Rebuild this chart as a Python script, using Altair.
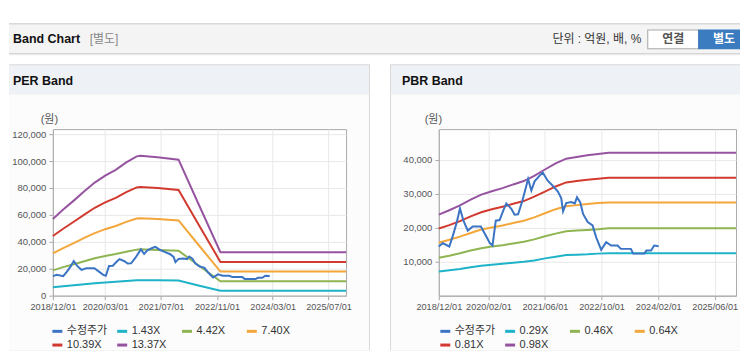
import altair as alt
import pandas as pd

FONT = "Liberation Sans, Noto Sans CJK KR, sans-serif"

# ---------------- data ----------------
per_series = ["수정주가", "1.43X", "4.42X", "7.40X", "10.39X", "13.37X"]
pbr_series = ["수정주가", "0.29X", "0.46X", "0.64X", "0.81X", "0.98X"]
line_colors = ["#3b74c4", "#1eb3c8", "#8fb552", "#f3a63a", "#d23a2f", "#9654a0"]

price_dates = ["2018-12-01", "2019-01-04", "2019-03-01", "2019-04-01", "2019-05-04", "2019-06-01",
               "2019-07-01", "2019-08-07", "2019-09-19", "2019-11-28", "2020-01-10", "2020-02-13",
               "2020-03-07", "2020-04-04", "2020-05-07", "2020-06-13", "2020-07-04", "2020-08-16",
               "2020-09-13", "2020-10-13", "2020-11-19", "2021-01-07", "2021-02-04", "2021-03-04",
               "2021-04-16", "2021-05-13", "2021-06-25", "2021-08-07", "2021-09-19", "2021-10-19",
               "2021-11-04", "2021-12-01", "2022-01-13", "2022-02-13", "2022-03-04", "2022-04-01",
               "2022-04-25", "2022-06-04", "2022-07-16", "2022-08-16", "2022-09-28", "2022-11-10",
               "2022-12-22", "2023-02-16", "2023-03-16", "2023-06-10", "2023-07-01", "2023-10-04",
               "2023-10-22", "2023-12-01", "2023-12-28", "2024-02-04"]
price_values = [14500, 15500, 14500, 17700, 21600, 25700, 22100, 19200, 20400, 20400, 17700, 15500,
                14800, 22100, 22300, 25600, 27200, 25600, 23900, 24000, 28000, 34400, 31000, 33700,
                35400, 36300, 33900, 32400, 30800, 28800, 24900, 27300, 27600, 27200, 29000, 27500,
                24100, 21700, 20700, 17200, 13500, 15800, 14800, 14800, 13800, 13800, 12400, 12400,
                13300, 13300, 14800, 14600]

per_band_dates = ["2018-12-01", "2019-03-01", "2019-06-01", "2019-09-01", "2019-12-01", "2020-03-01",
                  "2020-06-01", "2020-09-01", "2020-12-01", "2021-01-01", "2021-06-01", "2021-12-01",
                  "2022-06-01", "2022-12-01", "2025-12-01"]
per_143 = [6300, 7000, 7800, 8500, 9200, 9800, 10300, 10900, 11400, 11500, 11400, 11200, 7400, 3700, 3700]
per_442 = [18800, 21200, 23300, 25600, 27800, 29500, 30900, 32700, 34200, 34400, 34000, 33400, 22000, 10700, 10700]
per_740 = [31500, 35400, 39100, 42900, 46500, 49400, 51800, 54800, 57300, 57600, 56900, 55900, 36900, 17900, 17900]
per_1039 = [44300, 49700, 54900, 60200, 65300, 69300, 72700, 76900, 80400, 80800, 79900, 78500, 51800, 25100, 25100]
per_1337 = [57000, 64000, 70600, 77500, 84000, 89200, 93500, 99000, 103500, 104000, 102800, 101000, 66600, 32300, 32300]

pbr_band_dates = ["2018-12-01", "2019-03-01", "2019-06-01", "2019-09-01", "2019-12-01", "2020-03-01",
                  "2020-06-01", "2020-09-01", "2020-12-01", "2021-03-01", "2021-06-01", "2021-09-01",
                  "2021-12-01", "2022-03-01", "2022-06-01", "2022-09-01", "2022-12-01", "2025-12-01"]
pbr_029 = [7100, 7500, 7900, 8400, 8800, 9100, 9400, 9700, 10000, 10400, 11000, 11500, 12000, 12100, 12200, 12400, 12500, 12500]
pbr_046 = [11200, 11800, 12500, 13300, 14000, 14500, 14900, 15400, 15900, 16600, 17500, 18300, 19000, 19200, 19400, 19600, 19900, 19900]
pbr_064 = [15600, 16500, 17400, 18500, 19500, 20100, 20700, 21400, 22100, 23100, 24300, 25500, 26400, 26700, 27000, 27300, 27500, 27500]
pbr_081 = [19800, 20800, 22000, 23400, 24600, 25500, 26200, 27100, 27900, 29200, 30700, 32200, 33400, 33800, 34200, 34500, 34800, 34800]
pbr_098 = [23900, 25200, 26600, 28300, 29800, 30800, 31700, 32800, 33800, 35300, 37200, 39000, 40400, 40900, 41400, 41800, 42150, 42150]

per_ticks = ["2018-12-01", "2020-03-01", "2021-07-01", "2022-11-01", "2024-03-01", "2025-07-01"]
pbr_ticks = ["2018-12-01", "2020-02-01", "2021-06-01", "2022-10-01", "2024-02-01", "2025-06-01"]
per_yticks = [0, 20000, 40000, 60000, 80000, 100000, 120000]
pbr_yticks = [10000, 20000, 30000, 40000]


def dt(s):
    y, m, d = map(int, s.split("-"))
    return alt.DateTime(year=y, month=m, date=d, utc=True)


def panel_df(names, band_dates, bands):
    rows = []
    for name, vals in zip(names[1:], bands):
        for d, v in zip(band_dates, vals):
            rows.append({"date": d, "value": v, "series": name})
    for d, v in zip(price_dates, price_values):
        rows.append({"date": d, "value": v, "series": names[0]})
    return pd.DataFrame(rows)


ax_common = dict(labelFont=FONT, labelColor="#555555", domainColor="#aaaaaa",
                 tickColor="#aaaaaa", tickSize=4, gridColor="#e8e8e8", labelPadding=3)


def panel(df, names, width, yvals, ymax, xticks, legend_x, title_x):
    x = alt.X("date:T",
              scale=alt.Scale(type="utc", domain=[dt("2018-12-01"), dt("2025-12-01")]),
              axis=alt.Axis(values=[dt(t) for t in xticks],
                            labelExpr="utcFormat(datum.value, '%Y/%m/%d')",
                            title=None, labelFlush=False, labelOverlap=False,
                            labelFontSize=9.2, **ax_common))
    y = alt.Y("value:Q",
              scale=alt.Scale(domain=[0, ymax], nice=False),
              axis=alt.Axis(values=yvals, format=",.0f", title="(원)", titleAngle=0,
                            titleX=title_x, titleY=-10, titleAlign="center", titleBaseline="middle",
                            titleFont=FONT, titleFontSize=11, titleFontWeight="normal",
                            titleColor="#555555", labelFontSize=9.5, **ax_common))
    color = alt.Color("series:N",
                      scale=alt.Scale(domain=names, range=line_colors),
                      legend=alt.Legend(orient="none", legendX=legend_x, legendY=196,
                                        direction="horizontal", columns=4, title=None,
                                        symbolType="stroke", symbolStrokeWidth=3, symbolSize=100,
                                        labelFont=FONT, labelFontSize=11, labelColor="#333333",
                                        gridAlign="all", columnPadding=3, rowPadding=1,
                                        labelOffset=3, padding=0))
    return alt.Chart(df).mark_line(strokeWidth=2).encode(x=x, y=y, color=color).properties(
        width=width, height=167,
        view=alt.ViewBackground(fill="white", stroke="#aaaaaa", strokeWidth=1))


per_df = panel_df(per_series, per_band_dates, [per_143, per_442, per_740, per_1039, per_1337])
pbr_df = panel_df(pbr_series, pbr_band_dates, [pbr_029, pbr_046, pbr_064, pbr_081, pbr_098])

left = panel(per_df, per_series, 294, per_yticks, 123700, per_ticks, -2, -4)
right = panel(pbr_df, pbr_series, 298, pbr_yticks, 49100, pbr_ticks, 0, -6)

# ---------------- page decoration (header bar, panel boxes) ----------------
OX, OY = 52, 8
rect_x1 = [8, 8, 8, 8, 8, 8, 8, 8, 390, 391, 391, 648, 649, 699]
rect_x2 = [741, 741, 741, 741, 741, 370, 369, 369, 741, 741, 741, 700, 699, 741]
rect_y1 = [8, 22, 23, 52, 53, 63, 64, 93, 63, 64, 93, 28, 29, 28]
rect_y2 = [350, 23, 52, 53, 54, 350, 93, 350, 350, 93, 350, 48, 47, 48]
rect_fill = ["#ffffff", "#b4b4b4", "#f4f4f4", "#c8c8c8", "#e8e8e8",
             "#d9d9d9", "#eef1f6", "#fcfcfd",
             "#d9d9d9", "#eef1f6", "#fcfcfd",
             "#a8a8a8", "#ffffff", "#3b7bbf"]

rects = pd.DataFrame({
    "x": [v - OX for v in rect_x1], "x2": [v - OX for v in rect_x2],
    "y": [v - OY for v in rect_y1], "y2": [v - OY for v in rect_y2],
    "fill": rect_fill,
})
deco = alt.Chart(rects).mark_rect().encode(
    x=alt.X("x:Q", scale=None), x2="x2:Q",
    y=alt.Y("y:Q", scale=None), y2="y2:Q",
    color=alt.Color("fill:N", scale=None))


def label(px, py, s, size, color, weight="normal", align="left"):
    d = pd.DataFrame({"x": [px - OX], "y": [py - OY], "t": [s]})
    return alt.Chart(d).mark_text(align=align, baseline="middle", fontSize=size, fontWeight=weight,
                                  color=color, font=FONT).encode(
        x=alt.X("x:Q", scale=None), y=alt.Y("y:Q", scale=None), text="t:N")


texts = [
    label(12, 38, "Band Chart", 12.5, "#111111", "bold"),
    label(89, 38, "[별도]", 12, "#888888"),
    label(642, 38, "단위 : 억원, 배, %", 12, "#333333", align="right"),
    label(674, 38, "연결", 12, "#555555", "bold", "center"),
    label(725, 38, "별도", 12, "#ffffff", "bold", "center"),
    label(12, 80, "PER Band", 12.5, "#111111", "bold"),
    label(402, 80, "PBR Band", 12.5, "#111111", "bold"),
]

header = alt.layer(deco, *texts).properties(
    width=685, height=120, view=alt.ViewBackground(fill="transparent", stroke="transparent"))

body = alt.hconcat(left, right, spacing=93, bounds="flush").resolve_scale(
    color="independent", x="independent", y="independent").resolve_legend(color="independent")

chart = alt.vconcat(header, body, spacing=0, bounds="flush").resolve_scale(
    color="independent", x="independent", y="independent").properties(
    padding=0, background="white").configure_view(stroke="transparent")

chart.save("out.html", embed_options={"renderer": "svg", "actions": False})
